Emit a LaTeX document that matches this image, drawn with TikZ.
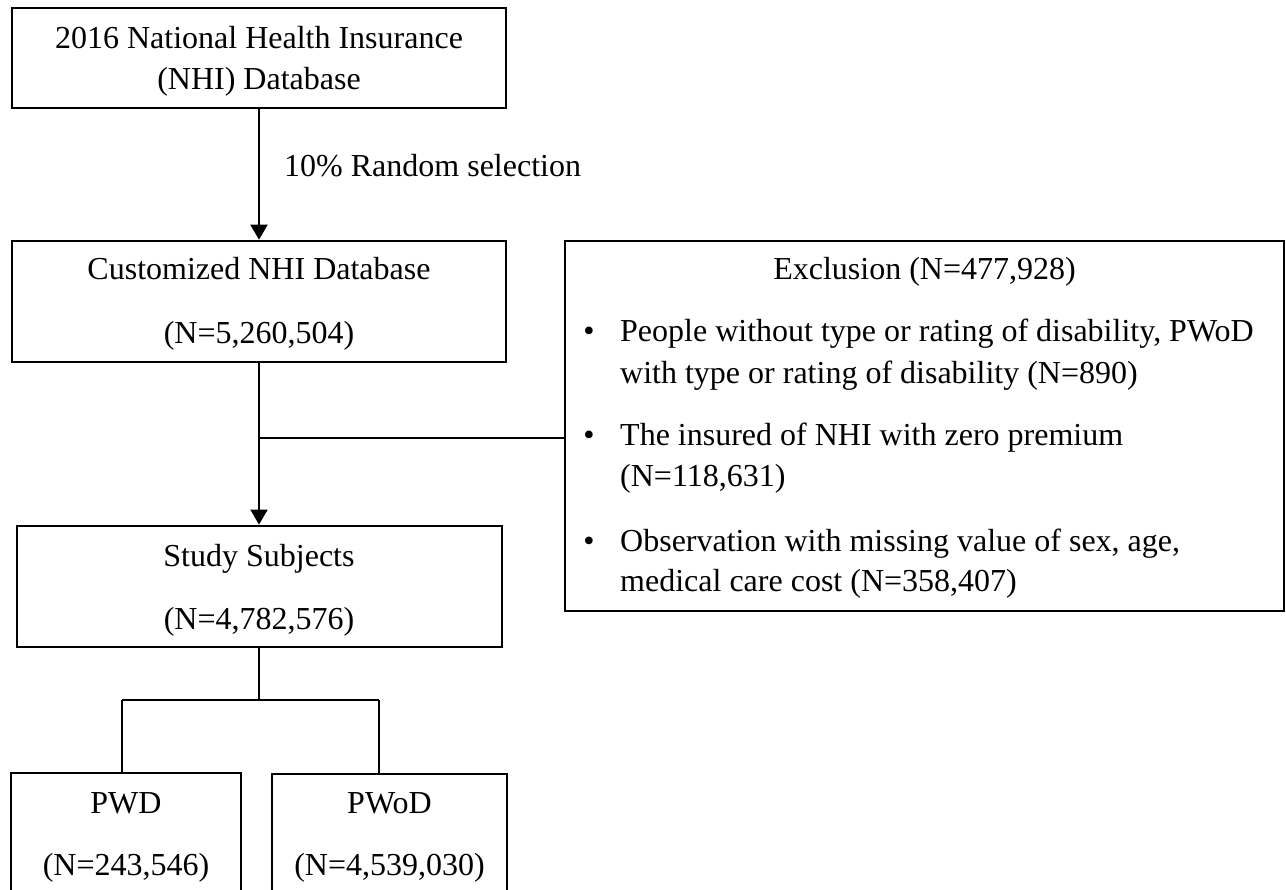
\documentclass[tikz,border=0pt]{standalone}
\usepackage{fontspec}
\setmainfont{Liberation Serif}
\usetikzlibrary{arrows.meta}
\tikzset{
  box/.style={draw, line width=2pt, inner sep=0pt, rectangle},
  txt/.style={font=\fontsize{32}{40}\selectfont, anchor=base, inner sep=0pt},
  txtl/.style={font=\fontsize{32}{40}\selectfont, anchor=base west, inner sep=0pt},
  conn/.style={line width=2pt},
  arr/.style={line width=2pt, -{Triangle[length=15pt 0 0,width=17pt 0 0]}}
}
\begin{document}
\begin{tikzpicture}[x=1pt,y=-1pt]
\clip (0,0) rectangle (1286,890);
\fill[white] (0,0) rectangle (1286,890);
% boxes
\node[box, minimum width=494pt, minimum height=100pt] (top) at (259,58.3) {};
\node[box, minimum width=494pt, minimum height=121pt] (cust) at (259,301.2) {};
\node[box, minimum width=485pt, minimum height=121pt] (study) at (259,586.1) {};
\node[box, minimum width=719pt, minimum height=370.3pt] (excl) at (924.5,425.85) {};
\node[box, minimum width=229.7pt, minimum height=160pt] (pwd) at (125.85,852.7) {};
\node[box, minimum width=235.3pt, minimum height=160pt] (pwod) at (389.35,854) {};
% texts
\node[txt] (t1) at (259,49) {2016 National Health Insurance};
\node[txt] (t2) at (259,90) {(NHI) Database};
\node[txtl] (lab) at (284,177) {10\% Random selection};
\node[txt] (c1) at (259,280) {Customized NHI Database};
\node[txt] (c2) at (259,344) {(N=5,260,504)};
\node[txt] (s1) at (259,566) {Study Subjects};
\node[txt] (s2) at (259,629) {(N=4,782,576)};
\node[txt] (p1) at (126,813) {PWD};
\node[txt] (p2) at (126,875) {(N=243,546)};
\node[txt] (q1) at (389.5,813) {PWoD};
\node[txt] (q2) at (389.5,875) {(N=4,539,030)};
\node[txt] (e0) at (924.5,280) {Exclusion (N=477,928)};
\node[txt] (b1) at (589,342) {•};
\node[txtl] (e1a) at (620,342) {People without type or rating of disability, PWoD};
\node[txtl] (e1b) at (620,384) {with type or rating of disability (N=890)};
\node[txt] (b2) at (589,446) {•};
\node[txtl] (e2a) at (620,446) {The insured of NHI with zero premium};
\node[txtl] (e2b) at (620,487) {(N=118,631)};
\node[txt] (b3) at (589,551) {•};
\node[txtl] (e3a) at (620,551) {Observation with missing value of sex, age,};
\node[txtl] (e3b) at (620,591) {medical care cost (N=358,407)};
% connectors
\draw[arr] (top.south) -- (cust.north);
\draw[arr] (cust.south) -- (study.north);
\coordinate (j) at (259,437.7);
\draw[conn] (j) -- (j -| excl.west);
\coordinate (split) at (259,700);
\coordinate (bL) at (122,700);
\coordinate (bR) at (379,700);
\draw[conn] (study.south) -- (split);
\draw[conn] (bL) -- (bR);
\draw[conn] (bL) -- (bL |- pwd.north);
\draw[conn] (bR) -- (bR |- pwod.north);
\end{tikzpicture}
\end{document}
